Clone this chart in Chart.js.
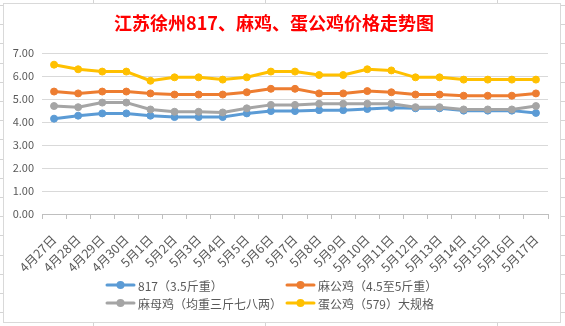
<!DOCTYPE html>
<html>
<head>
<meta charset="utf-8">
<script src="https://cdn.jsdelivr.net/npm/chart.js@4/dist/chart.umd.min.js"></script>
<style>
  html, body { margin: 0; padding: 0; background: #fff; }
  #sheet {
    position: absolute; left: 0; top: 0; width: 565px; height: 326px;
    background-image:
      repeating-linear-gradient(to bottom, transparent 0, transparent 5px, #D4D4D4 5px, #D4D4D4 6px, transparent 6px, transparent 19.2px);
  }
  .col { position: absolute; top: 0; width: 1px; height: 326px; background: #D4D4D4; }
  #box {
    position: absolute; left: 3px; top: 3px; width: 556px; height: 318px;
    background: #fff; border: 1px solid #D9D9D9;
  }
  #chart { position: absolute; left: 0; top: 0; }
</style>
</head>
<body>
<div id="sheet">
  <div class="col" style="left:93px"></div>
  <div class="col" style="left:265px"></div>
  <div class="col" style="left:497px"></div>
</div>
<div id="box"></div>
<canvas id="chart" width="565" height="326"></canvas>
<script>
const titleText = '江苏徐州817、麻鸡、蛋公鸡价格走势图';

const categories = ['4月27日', '4月28日', '4月29日', '4月30日', '5月1日', '5月2日', '5月3日',
    '5月4日', '5月5日', '5月6日', '5月7日', '5月8日', '5月9日', '5月10日', '5月11日',
    '5月12日', '5月13日', '5月14日', '5月15日', '5月16日', '5月17日'];

const seriesNames = ['817（3.5斤重）', '麻公鸡（4.5至5斤重）', '麻母鸡（均重三斤七八两）', '蛋公鸡（579）大规格'];
const seriesColors = ['#5B9BD5', '#ED7D31', '#A5A5A5', '#FFC000'];

const price817 = [4.15, 4.28, 4.38, 4.38, 4.28, 4.22, 4.22, 4.22, 4.38, 4.48, 4.48,
    4.52, 4.52, 4.57, 4.62, 4.6, 4.6, 4.5, 4.5, 4.5, 4.4];
const priceMaGong = [5.33, 5.25, 5.33, 5.33, 5.25, 5.2, 5.2, 5.2, 5.3, 5.45, 5.45,
    5.25, 5.25, 5.35, 5.3, 5.2, 5.2, 5.15, 5.15, 5.15, 5.25];
const priceMaMu = [4.7, 4.65, 4.85, 4.85, 4.55, 4.45, 4.45, 4.42, 4.6, 4.75, 4.75,
    4.8, 4.8, 4.8, 4.8, 4.65, 4.65, 4.55, 4.55, 4.55, 4.7];
const priceDanGong = [6.5, 6.3, 6.2, 6.2, 5.8, 5.95, 5.95, 5.85, 5.95, 6.2, 6.2,
    6.05, 6.05, 6.3, 6.25, 5.95, 5.95, 5.85, 5.85, 5.85, 5.85];

const yTicks = { min: 0, max: 7, step: 1 };

const allSeries = [price817, priceMaGong, priceMaMu, priceDanGong];
const fontFamily = "'Noto Sans CJK SC', 'Noto Sans', sans-serif";
const textColor = '#595959';

// legend in two columns like excel
const legendPlugin = {
    id: 'excelLegend',
    afterDraw(chart) {
        const ctx = chart.ctx;
        const colX = [107, 287];
        const rowY = [285, 303];
        ctx.save();
        ctx.font = '12px ' + fontFamily;
        ctx.textBaseline = 'middle';
        ctx.textAlign = 'left';
        chart.data.datasets.forEach((ds, i) => {
            const x = colX[i % 2];
            const y = rowY[Math.floor(i / 2)];
            ctx.strokeStyle = ds.borderColor;
            ctx.lineWidth = 3;
            ctx.lineCap = 'round';
            ctx.beginPath();
            ctx.moveTo(x, y);
            ctx.lineTo(x + 27, y);
            ctx.stroke();
            ctx.fillStyle = ds.borderColor;
            ctx.beginPath();
            ctx.arc(x + 13.5, y, 4, 0, Math.PI * 2);
            ctx.fill();
            ctx.fillStyle = textColor;
            ctx.fillText(ds.label, x + 31, y + 1);
        });
        ctx.restore();
    }
};

const ctx = document.getElementById('chart').getContext('2d');
const priceChart = new Chart(ctx, {
    type: 'line',
    data: {
        labels: categories,
        datasets: allSeries.map((values, i) => ({
            label: seriesNames[i],
            data: values,
            borderColor: seriesColors[i],
            backgroundColor: seriesColors[i],
            pointBackgroundColor: seriesColors[i],
            pointBorderColor: seriesColors[i],
            borderWidth: 3,
            pointRadius: 3.5,
            pointBorderWidth: 1,
            borderJoinStyle: 'round',
            borderCapStyle: 'round',
            tension: 0,
            fill: false,
            order: allSeries.length - i,
        })),
    },
    options: {
        responsive: false,
        animation: false,
        devicePixelRatio: 1,
        layout: {
            padding: { left: 0, right: 17, top: 0, bottom: 50 },
        },
        plugins: {
            legend: { display: false },
            tooltip: { enabled: false },
            title: {
                display: true,
                text: titleText,
                color: '#FF0000',
                font: { family: fontFamily, size: 18, weight: 'bold' },
                padding: { top: 12.6, bottom: 19 },
            },
        },
        scales: {
            x: {
                offset: true,
                grid: {
                    offset: true,
                    drawOnChartArea: false,
                    drawTicks: true,
                    tickLength: 5,
                    color: '#BFBFBF',
                },
                border: { color: '#BFBFBF', width: 1 },
                ticks: {
                    autoSkip: false,
                    maxRotation: 45,
                    minRotation: 45,
                    padding: 13,
                    color: textColor,
                    font: { family: fontFamily, size: 12.5 },
                },
                // fixed height so the plot bottom sits where the excel one does
                afterFit(scale) { scale.height = 62; },
            },
            y: {
                min: yTicks.min,
                max: yTicks.max,
                grid: { color: '#D9D9D9', drawTicks: false },
                border: { display: false },
                ticks: {
                    stepSize: yTicks.step,
                    padding: 8,
                    color: textColor,
                    font: { family: fontFamily, size: 11 },
                    callback: (v) => Number(v).toFixed(2),
                },
                afterFit(scale) { scale.width = 42; },
            },
        },
    },
    plugins: [legendPlugin],
});
</script>
</body>
</html>
